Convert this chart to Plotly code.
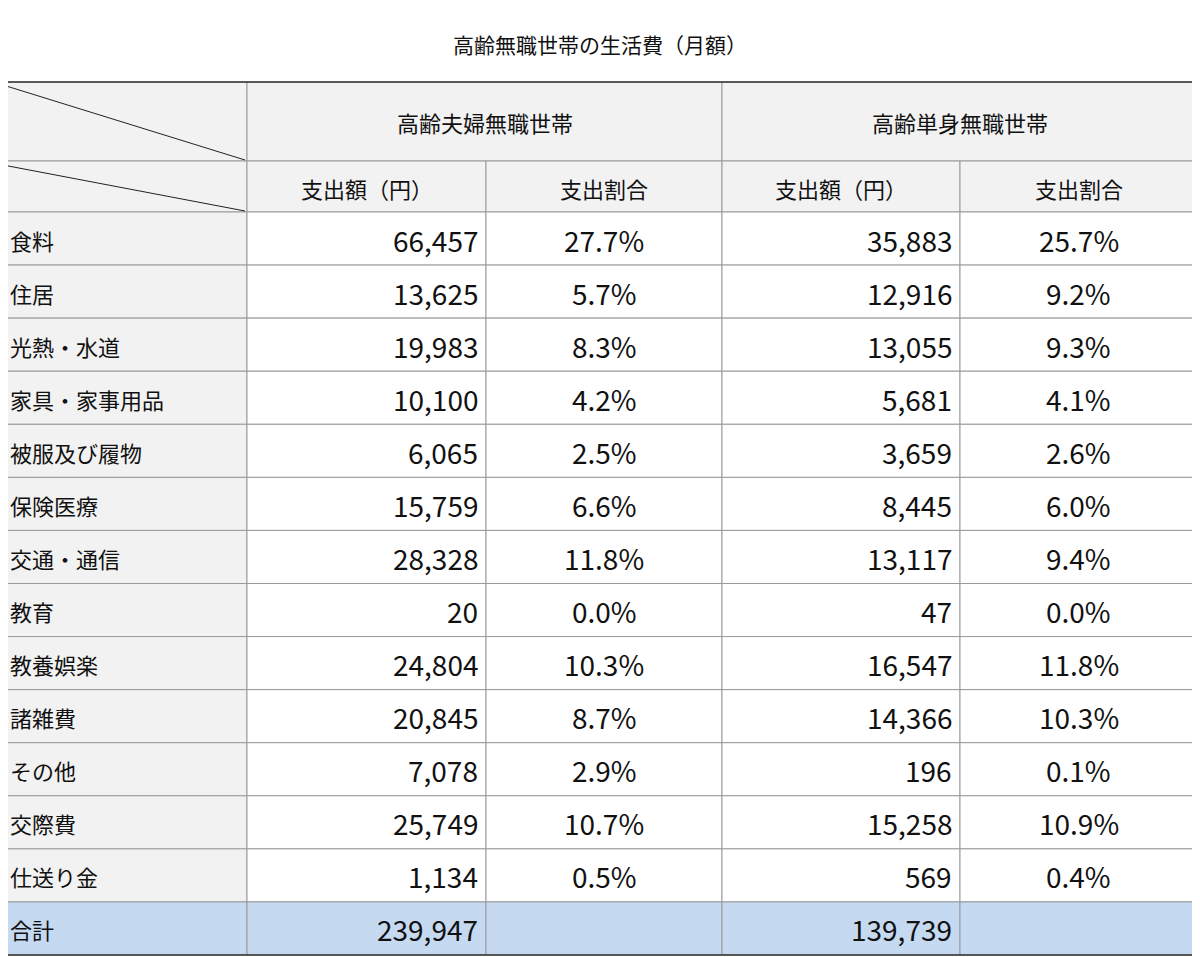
import plotly.graph_objects as go

title = "高齢無職世帯の生活費（月額）"
groups = ["高齢夫婦無職世帯", "高齢単身無職世帯"]
subheads = ["支出額（円）", "支出割合"]
categories = ["食料", "住居", "光熱・水道", "家具・家事用品", "被服及び履物", "保険医療",
              "交通・通信", "教育", "教養娯楽", "諸雑費", "その他", "交際費", "仕送り金"]
couple_yen = [66457, 13625, 19983, 10100, 6065, 15759, 28328, 20, 24804, 20845, 7078, 25749, 1134]
couple_pct = [27.7, 5.7, 8.3, 4.2, 2.5, 6.6, 11.8, 0.0, 10.3, 8.7, 2.9, 10.7, 0.5]
single_yen = [35883, 12916, 13055, 5681, 3659, 8445, 13117, 47, 16547, 14366, 196, 15258, 569]
single_pct = [25.7, 9.2, 9.3, 4.1, 2.6, 6.0, 9.4, 0.0, 11.8, 10.3, 0.1, 10.9, 0.4]
total_label = "合計"
totals = [239947, 139739]

cols = [3, 247, 486, 722, 960, 1197]
top, h1, h2, bottom = 82, 161, 212, 955
nrows = len(categories) + 1
rh = (bottom - h2) / nrows
FONT = "Noto Sans CJK JP"

shapes, ann = [], []
def rect(x0, y0, x1, y1, fill):
    shapes.append(dict(type="rect", x0=x0, y0=y0, x1=x1, y1=y1, fillcolor=fill,
                       line=dict(color="#9a9a9a", width=1), layer="below"))
def text(x, y, s, size, anchor="center"):
    ann.append(dict(x=x, y=y, text=s, showarrow=False, xanchor=anchor, yanchor="middle",
                    font=dict(family=FONT, size=size, color="#111")))

rect(cols[0], top, cols[1], h1, "#f2f2f2")
rect(cols[0], h1, cols[1], h2, "#f2f2f2")
for g in range(2):
    rect(cols[1 + 2 * g], top, cols[3 + 2 * g], h1, "#f2f2f2")
    text((cols[1 + 2 * g] + cols[3 + 2 * g]) / 2, (top + h1) / 2, groups[g], 22)
    for k in range(2):
        c = 1 + 2 * g + k
        rect(cols[c], h1, cols[c + 1], h2, "#f2f2f2")
        text((cols[c] + cols[c + 1]) / 2, (h1 + h2) / 2 + 1, subheads[k], 22)
shapes.append(dict(type="line", x0=cols[0], y0=top + 3, x1=cols[1] - 2, y1=h1 - 1, line=dict(color="#222", width=1)))
shapes.append(dict(type="line", x0=cols[0], y0=h1 + 4, x1=cols[1] - 2, y1=h2 - 1, line=dict(color="#222", width=1)))

def fmt_pct(v):
    return f"{v:.1f}%"

for i, cat in enumerate(categories):
    y0 = h2 + i * rh
    y1 = y0 + rh
    ym = (y0 + y1) / 2 + 1
    rect(cols[0], y0, cols[1], y1, "#f2f2f2")
    text(cols[0] + 5, ym, cat, 22, "left")
    vals = [f"{couple_yen[i]:,}", fmt_pct(couple_pct[i]), f"{single_yen[i]:,}", fmt_pct(single_pct[i])]
    for k, v in enumerate(vals):
        c = k + 1
        rect(cols[c], y0, cols[c + 1], y1, "white")
        if k % 2 == 0:
            text(cols[c + 1] - 6, ym, v, 28, "right")
        else:
            text((cols[c] + cols[c + 1]) / 2, ym, v, 28)

y0 = h2 + len(categories) * rh
ym = (y0 + bottom) / 2 + 1
rect(cols[0], y0, cols[1], bottom, "#c5d9f1")
text(cols[0] + 5, ym, total_label, 22, "left")
for g in range(2):
    rect(cols[1 + 2 * g], y0, cols[2 + 2 * g], bottom, "#c5d9f1")
    rect(cols[2 + 2 * g], y0, cols[3 + 2 * g], bottom, "#c5d9f1")
    text(cols[2 + 2 * g] - 6, ym, f"{totals[g]:,}", 28, "right")

shapes.append(dict(type="rect", x0=cols[0], y0=top, x1=cols[-1], y1=bottom, line=dict(color="#333", width=1.5)))
text(600, 44, title, 21)

# page body has an 8px default margin; shift ranges to compensate
fig = go.Figure()
fig.update_layout(width=1200, height=957, margin=dict(l=0, r=0, t=0, b=0),
                  paper_bgcolor="white", plot_bgcolor="white",
                  xaxis=dict(range=[8, 1208], visible=False, fixedrange=True),
                  yaxis=dict(range=[965, 8], visible=False, fixedrange=True),
                  shapes=shapes, annotations=ann, showlegend=False)
fig.write_html("out.html")
